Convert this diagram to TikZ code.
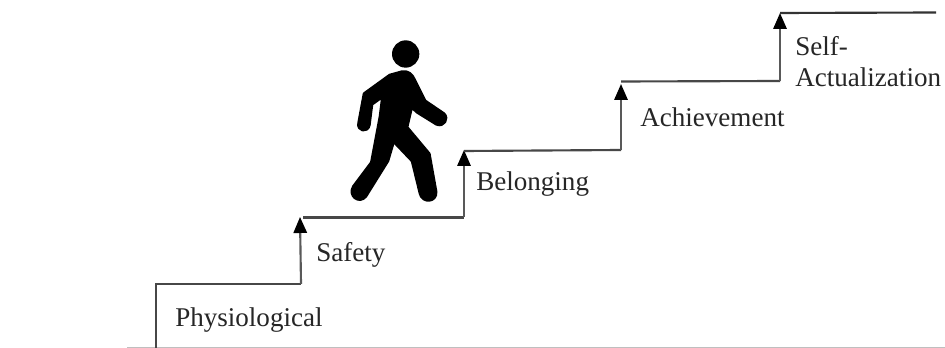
\documentclass[tikz,border=0pt]{standalone}
\usepackage{fontspec}
\setmainfont{Liberation Serif}
\usetikzlibrary{arrows.meta}
\tikzset{
  stair/.style={draw=black!72,line width=1.6pt},
  riser/.style={draw=black!65,line width=1.6pt,-{Triangle[length=12pt,width=10pt,color=black]}},
  lab/.style={font=\fontsize{20.3}{24}\selectfont,anchor=base west,inner sep=0pt,text=black!85},
  person/.style={fill=black,draw=black,line width=3pt,line join=round}
}
\begin{document}
\begin{tikzpicture}[x=0.75pt,y=-0.75pt]
\useasboundingbox (0,0) rectangle (945,348);
\fill[white] (0,0) rectangle (945,348);
\coordinate (g0) at (127,347.5); \coordinate (g1) at (945,347.5);
\draw[black!25,line width=1pt] (g0) -- (g1);
\coordinate (a0) at (156,348); \coordinate (a1) at (156,284); \coordinate (a2) at (301,284); \coordinate (a3) at (300,217);
\coordinate (b1) at (303,217.5); \coordinate (b2) at (464,217.5); \coordinate (b3) at (464,150);
\coordinate (c1) at (464,151); \coordinate (c2) at (621,150); \coordinate (c3) at (621,84);
\coordinate (d1) at (621,81.5); \coordinate (d2) at (780,81); \coordinate (d3) at (780,13);
\coordinate (e1) at (780,13); \coordinate (e2) at (936,12.5);
\draw[stair] (a0) -- (a1) -- (a2);
\draw[riser] (a2) -- (a3);
\draw[stair] (b1) -- (b2);
\draw[riser] (b2) -- (b3);
\draw[stair] (c1) -- (c2);
\draw[riser] (c2) -- (c3);
\draw[stair] (d1) -- (d2);
\draw[riser] (d2) -- (d3);
\draw[stair,black!80] (e1) -- (e2);
\node[lab] (physio) at (175,327) {Physiological};
\node[lab] (safety) at (316,262) {Safety};
\node[lab] (belong) at (476,191) {Belonging};
\node[lab] (achieve) at (640,127) {Achievement};
\node[lab] (self) at (795,56) {Self-};
\node[lab] (actual) at (795,87) {Actualization};
\begin{scope}[shift={(340,30)},x=0.25pt,y=-0.25pt]
\fill[black] (197,72) circle[radius=41];
\draw[person]
 (186,127) .. controls (205,124) and (215,135) .. (222,150) -- (254,214) -- (310,252)
 .. controls (325,265) and (310,290) .. (290,281) -- (232,245) -- (214,228) -- (199,292)
 -- (266,372) -- (286,484) .. controls (290,515) and (248,518) .. (242,490) -- (218,392)
 -- (160,331) -- (142,392) -- (76,498) .. controls (58,520) and (26,497) .. (42,470)
 -- (96,398) -- (122,260) -- (130,196) -- (94,222) -- (86,285)
 .. controls (82,306) and (52,302) .. (58,278) -- (74,192) -- (150,137) -- cycle;
\end{scope}
\end{tikzpicture}
\end{document}
